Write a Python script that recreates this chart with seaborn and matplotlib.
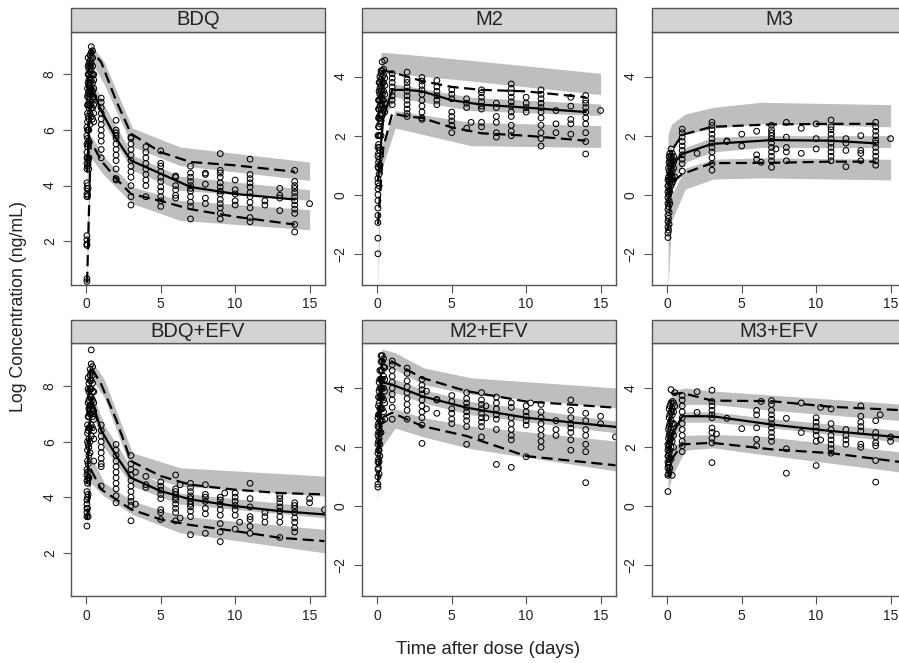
import pandas as pd
import seaborn as sns
import matplotlib.pyplot as plt
from matplotlib.patches import Rectangle

sns.set_style("white")
plt.rcParams['font.family'] = ['Liberation Sans', 'DejaVu Sans']

# ---- observed log concentrations, grouped by sampling day ----
bdq_obs = {
    0.04: [0.55, 0.65, 1.85, 1.9, 2.05, 2.2, 3.6, 3.7, 3.9, 4.1, 4.6, 4.8, 5.0, 5.2, 5.5, 5.8, 6.1],
    0.08: [3.65, 4.0, 4.7, 5.0, 5.4, 5.7, 6.0, 6.3, 6.6, 6.9, 7.2, 7.5],
    0.12: [3.9, 4.9, 5.5, 6.0, 6.5, 6.9, 7.3, 7.7, 8.0, 8.3, 8.6],
    0.17: [4.6, 5.0, 5.6, 6.0, 6.4, 6.8, 7.0, 7.2, 7.4, 7.6, 7.8, 8.0, 8.2, 8.4],
    0.25: [6.2, 6.6, 6.9, 7.1, 7.3, 7.5, 7.7, 7.9, 8.1, 8.3, 8.5, 8.7],
    0.33: [6.5, 6.8, 7.0, 7.3, 7.5, 7.8, 8.0, 8.2, 8.4, 8.6, 8.8, 9.0],
    0.42: [6.4, 6.8, 7.1, 7.4, 7.7, 8.0, 8.3, 8.6, 8.85],
    0.5: [6.3, 6.6, 6.9, 7.2, 7.5, 7.8, 8.0],
    1: [5.0, 5.3, 5.6, 5.8, 6.0, 6.2, 6.4, 6.6, 6.8, 7.0, 7.15],
    2: [4.2, 4.25, 4.6, 4.9, 5.1, 5.3, 5.5, 5.7, 5.8, 5.9, 6.0, 6.35],
    3: [3.3, 3.6, 4.0, 4.3, 4.5, 4.7, 4.9, 5.1, 5.3, 5.5, 5.7, 5.75],
    4: [3.6, 4.0, 4.2, 4.4, 4.6, 4.8, 5.0, 5.2, 5.4],
    5: [3.25, 3.45, 3.6, 3.8, 3.95, 4.15, 4.3, 4.5, 4.7, 4.8, 5.25],
    6: [3.55, 3.65, 3.85, 4.0, 4.3, 4.35],
    7: [2.8, 3.25, 3.4, 3.6, 3.8, 3.9, 4.0, 4.15, 4.3, 4.45, 4.7],
    8: [3.35, 3.55, 4.05, 4.4, 4.45],
    9: [2.8, 3.0, 3.2, 3.35, 3.5, 3.7, 3.8, 3.95, 4.1, 4.3, 4.45, 4.55, 5.15],
    10: [3.3, 3.45, 3.7, 3.85, 4.2],
    11: [2.7, 2.85, 3.2, 3.4, 3.6, 3.75, 3.95, 4.1, 4.25, 4.4, 4.95],
    12: [3.3, 3.45],
    13: [3.1, 3.55, 3.65, 3.9],
    14: [2.33, 2.6, 3.0, 3.15, 3.3, 3.45, 3.6, 3.75, 3.9, 4.0, 4.15, 4.55],
    15: [3.35],
}
m2_obs = {
    0.04: [-2.0, -1.47, -0.94, -0.7, -0.45, -0.2, 0.0, 0.2, 0.4, 0.55, 0.95, 1.3, 1.6, 2.0],
    0.08: [0.9, 1.1, 1.4, 1.7, 2.0, 2.3, 2.6, 2.9, 3.2],
    0.12: [0.3, 0.7, 1.2, 1.6, 2.0, 2.3, 2.6, 2.9, 3.2, 3.5, 3.8],
    0.17: [1.0, 1.5, 2.0, 2.4, 2.7, 3.0, 3.2, 3.4, 3.6, 3.8, 4.0],
    0.25: [2.0, 2.5, 2.9, 3.1, 3.3, 3.5, 3.7, 3.9, 4.1, 4.2],
    0.33: [2.7, 3.0, 3.2, 3.4, 3.6, 3.8, 4.0, 4.2, 4.5],
    0.42: [2.9, 3.2, 3.5, 3.8, 4.05, 4.25],
    0.5: [2.8, 3.1, 3.4, 3.7, 3.95, 4.55],
    1: [3.05, 3.2, 3.35, 3.5, 3.65, 3.8, 3.95, 4.1],
    2: [2.65, 2.75, 2.9, 3.05, 3.2, 3.35, 3.5, 3.65, 3.8, 3.9, 4.15],
    3: [2.55, 2.6, 2.8, 3.0, 3.2, 3.4, 3.55, 3.7, 3.85, 3.97],
    4: [3.05, 3.2, 3.35, 3.5, 3.65, 3.87],
    5: [2.1, 2.35, 2.5, 2.65, 2.8, 3.25, 3.4, 3.55],
    6: [2.25, 2.95, 3.1, 3.25],
    6.3: [2.45],
    7: [2.3, 2.45, 2.9, 3.0, 3.15, 3.3, 3.45, 3.55],
    8: [1.95, 2.1, 2.45, 2.65, 2.95, 3.1],
    9: [2.0, 2.15, 2.35, 2.65, 2.8, 3.0, 3.15, 3.3, 3.45, 3.6, 3.75],
    10: [2.8, 2.95, 3.1, 3.3],
    11: [1.65, 1.9, 2.1, 2.35, 2.6, 2.8, 2.95, 3.1, 3.25, 3.4, 3.55],
    12: [2.1, 2.4, 2.85],
    13: [2.05, 2.4, 2.55, 3.0, 3.3],
    14: [1.38, 1.8, 2.1, 2.4, 2.6, 2.8, 2.95, 3.1, 3.2, 3.36],
    15: [2.85],
}
m3_obs = {
    0.04: [-1.45, -1.3, -1.1, -0.9, -0.7, -0.5, -0.3, -0.1, 0.1, 0.3, 0.5],
    0.08: [-1.2, -0.8, -0.4, 0.0, 0.3, 0.6, 0.9],
    0.12: [-1.0, -0.6, -0.2, 0.2, 0.5, 0.8, 1.1, 1.3],
    0.17: [-0.3, 0.1, 0.4, 0.7, 1.0, 1.2, 1.4],
    0.25: [0.3, 0.5, 0.7, 0.9, 1.1, 1.3, 1.55],
    0.33: [0.4, 0.6, 0.8, 1.0, 1.2, 1.4],
    0.42: [0.5, 0.9, 1.1, 1.3],
    0.5: [0.6],
    1: [0.8, 1.05, 1.2, 1.35, 1.5, 1.65, 1.8, 1.95, 2.1, 2.22],
    2: [1.4],
    3: [0.83, 1.05, 1.25, 1.45, 1.6, 1.75, 1.9, 2.05, 2.2, 2.35, 2.45],
    4: [1.8, 1.82],
    5: [1.65, 2.05],
    6: [1.2, 1.35, 2.15],
    6.3: [1.1],
    7: [0.93, 1.15, 1.3, 1.45, 1.6, 1.75, 1.9, 2.0, 2.1, 2.2, 2.35],
    7.3: [1.55],
    8: [1.15, 1.45, 1.6, 1.95, 2.45],
    9: [1.4, 2.25],
    10: [1.55, 1.9, 2.4],
    11: [1.15, 1.3, 1.45, 1.6, 1.75, 1.9, 2.05, 2.2, 2.3, 2.53],
    12: [0.95, 1.5, 1.75, 1.9],
    13: [1.15, 1.4, 1.5, 2.0],
    14: [1.0, 1.15, 1.3, 1.45, 1.6, 1.75, 1.85, 2.0, 2.15, 2.3, 2.45],
    15: [1.9],
}
bdq_efv_obs = {
    0.04: [2.96, 3.3, 3.45, 3.6, 3.75, 3.9, 4.2, 4.6, 4.8, 5.0],
    0.08: [3.6, 4.0, 4.5, 4.9, 5.3, 5.7, 6.0, 6.3, 6.6],
    0.12: [3.3, 4.1, 4.7, 5.2, 5.9, 6.4, 6.9, 7.4, 7.9, 8.3],
    0.17: [4.7, 5.5, 5.8, 6.1, 6.5, 6.9, 7.2, 7.5, 7.8, 8.1],
    0.25: [5.6, 6.0, 6.5, 7.0, 7.3, 7.6, 7.9, 8.2, 8.4, 8.6],
    0.33: [6.2, 6.6, 7.0, 7.3, 7.6, 7.9, 8.2, 8.5, 8.8, 9.3],
    0.42: [6.5, 6.9, 7.2, 7.5, 7.8, 8.1, 8.4, 8.7],
    0.5: [5.3, 6.1, 6.4, 6.8, 7.1, 7.4, 7.8],
    1: [4.4, 5.1, 5.2, 5.4, 5.6, 5.8, 6.0, 6.2, 6.4, 6.6],
    2: [3.8, 4.05, 4.3, 4.5, 4.7, 4.9, 5.1, 5.3, 5.5, 5.7, 5.9],
    3: [3.15, 3.7, 3.85, 4.0, 4.2, 4.4, 4.6, 4.8, 5.0, 5.2, 5.5],
    3.3: [3.75, 4.9],
    4: [4.35, 4.45, 4.75],
    5: [3.2, 3.45, 3.55, 3.95, 4.1, 4.25, 4.4, 4.55],
    6: [3.15, 3.45, 3.6, 3.75, 3.9, 4.0, 4.1, 4.2, 4.3, 4.8],
    6.3: [3.25, 4.45],
    7: [2.65, 3.3, 3.5, 3.65, 3.75, 3.85, 3.95, 4.05, 4.2, 4.35, 4.5],
    8: [2.7, 3.4, 3.6, 3.85, 4.0, 4.1, 4.45],
    9: [2.4, 2.75, 3.05, 3.35, 3.55, 3.75, 3.9, 4.0],
    9.3: [4.15],
    10: [2.85, 3.35, 3.55, 3.7, 3.85, 4.0, 4.15],
    10.3: [3.1],
    11: [2.7, 2.95, 3.2, 3.3, 3.65, 3.95, 4.5],
    12: [3.1, 3.3, 3.45],
    13: [2.55, 3.1, 3.3, 3.5, 3.65, 3.8, 3.95, 4.05],
    14: [2.75, 2.9, 3.1, 3.25, 3.45, 3.6, 3.7, 3.8],
    15: [3.8, 3.95],
    16: [3.55],
}
m2_efv_obs = {
    0.04: [0.65, 0.75, 1.0, 1.25, 1.5, 1.8, 2.1, 2.4, 2.7, 3.0],
    0.08: [1.3, 1.6, 1.9, 2.2, 2.5, 2.8, 3.1, 3.4, 3.7],
    0.12: [1.1, 1.5, 1.9, 2.3, 2.7, 3.1, 3.5, 3.9, 4.2],
    0.17: [1.7, 2.1, 2.5, 2.9, 3.3, 3.7, 4.0, 4.3, 4.6],
    0.25: [2.5, 2.9, 3.3, 3.7, 4.0, 4.3, 4.6, 4.9, 5.1],
    0.33: [2.9, 3.3, 3.7, 4.0, 4.3, 4.6, 4.9, 5.1],
    0.42: [3.2, 3.6, 4.0, 4.4, 4.7, 5.0],
    0.5: [2.95, 3.5, 3.9, 4.3, 4.7],
    1: [2.95, 3.35, 3.6, 3.8, 4.0, 4.2, 4.4, 4.6, 4.8, 4.92],
    2: [2.95, 3.25, 3.45, 3.65, 3.85, 4.05, 4.25, 4.5, 4.68],
    3: [2.13, 2.75, 3.0, 3.2, 3.4, 3.6, 3.8, 3.95, 4.1, 4.3],
    3.3: [3.3, 3.9],
    4: [3.15, 3.6, 3.62],
    5: [2.8, 2.95, 3.15, 3.3, 3.55, 3.75],
    6: [2.1, 2.7, 2.9, 3.05, 3.2, 3.35, 3.5, 3.65, 3.85],
    7: [2.35, 2.7, 2.85, 3.0, 3.15, 3.3, 3.45, 3.6, 3.85],
    7.3: [3.0, 3.4],
    8: [1.42, 2.6, 2.95, 3.1, 3.3, 3.5, 3.7],
    9: [1.32, 2.25, 2.4, 2.6, 2.8, 3.0, 3.35, 3.5],
    10: [1.68, 2.75, 2.9, 3.05, 3.2, 3.4],
    10.3: [3.5],
    11: [2.0, 2.2, 2.4, 2.6, 2.8, 3.0, 3.2, 3.45],
    12: [2.4, 2.6, 2.9],
    13: [1.9, 2.25, 2.5, 2.65, 2.8, 3.0, 3.25, 3.6],
    14: [0.8, 1.85, 2.1, 2.4, 2.6, 2.9, 3.15],
    15: [2.8, 3.05],
    16: [2.35],
}
m3_efv_obs = {
    0.04: [0.5, 1.05, 1.3, 1.5, 1.7, 1.9, 2.1],
    0.08: [1.1, 1.4, 1.7, 2.0, 2.3, 2.6],
    0.12: [1.2, 1.5, 1.8, 2.1, 2.4, 2.7, 3.0, 3.3],
    0.17: [1.3, 1.65, 1.9, 2.2, 2.5, 2.8, 3.1, 3.4],
    0.25: [1.6, 2.0, 2.3, 2.6, 2.9, 3.2, 3.5, 3.95],
    0.33: [1.05, 2.2, 2.5, 2.8, 3.1, 3.3, 3.55],
    0.42: [2.0, 2.4, 2.8, 3.2, 3.5],
    0.5: [3.4, 3.85],
    1: [1.85, 2.05, 2.2, 2.4, 2.6, 2.8, 3.0, 3.2, 3.4, 3.6, 3.75],
    2: [3.18, 3.88],
    3: [1.48, 2.15, 2.3, 2.5, 2.65, 3.0, 3.1, 3.25, 3.4, 3.55, 3.93],
    3.3: [2.45],
    4: [2.98],
    5: [2.63],
    6: [2.05, 2.27, 2.66, 3.1, 3.25],
    6.3: [3.55],
    7: [2.2, 2.35, 2.5, 2.65, 2.8, 2.95, 3.1, 3.25, 3.45, 3.58],
    8: [1.12, 1.95, 2.98],
    9: [2.5, 3.5],
    10: [1.38, 2.2, 2.4, 2.55, 2.7, 2.85, 3.0],
    10.3: [2.25, 3.35],
    11: [1.8, 1.95, 2.1, 2.25, 2.4, 2.6, 2.8, 3.3],
    12: [2.1, 2.25, 2.4, 2.6],
    13: [2.0, 2.1, 2.55, 2.7, 2.85, 3.05, 3.4],
    14: [0.82, 1.55, 2.05, 2.15, 2.35, 2.5, 2.9],
    14.3: [3.1],
    15: [2.2, 2.35],
}

# ---- observed 5th / 50th / 95th percentiles ----
bdq_pt = [0.05, 0.3, 1, 2, 3, 5, 7, 10, 14]
bdq_p05 = [0.5, 5.6, 4.9, 4.25, 3.7, 3.45, 3.15, 2.88, 2.6]
bdq_p50 = [4.5, 7.6, 6.7, 5.7, 4.9, 4.43, 3.95, 3.7, 3.5]
bdq_p95 = [7.5, 8.9, 8.44, 7.06, 5.87, 5.2, 4.85, 4.73, 4.5]

m2_pt = [0.05, 0.4, 1, 2, 3, 5, 7, 10, 14]
m2_p05 = [-1.0, 1.6, 2.75, 2.65, 2.6, 2.28, 2.08, 2.0, 1.83]
m2_p50 = [0.5, 2.6, 3.55, 3.55, 3.5, 3.2, 3.05, 2.95, 2.8]
m2_p95 = [2.5, 4.2, 4.15, 4.0, 3.85, 3.65, 3.55, 3.5, 3.3]

m3_pt = [0.05, 0.3, 1, 3, 7, 11, 14]
m3_p05 = [-1.2, 0.4, 0.7, 1.07, 1.08, 1.12, 1.12]
m3_p50 = [-0.3, 1.0, 1.38, 1.72, 1.85, 1.83, 1.74]
m3_p95 = [0.5, 1.5, 2.03, 2.3, 2.38, 2.4, 2.4]

bdq_efv_pt = [0.05, 0.3, 1, 2, 3, 5, 7, 10, 13, 16]
bdq_efv_p05 = [3.2, 5.0, 4.28, 3.92, 3.56, 3.2, 3.0, 2.78, 2.54, 2.42]
bdq_efv_p50 = [4.5, 7.6, 6.4, 5.5, 4.7, 4.22, 3.92, 3.68, 3.5, 3.38]
bdq_efv_p95 = [7.0, 8.7, 8.06, 6.8, 5.3, 4.76, 4.45, 4.27, 4.15, 4.1]

m2_efv_pt = [0.05, 0.3, 1, 3, 6, 10, 16]
m2_efv_p05 = [0.8, 3.0, 3.17, 2.72, 2.38, 1.7, 1.39]
m2_efv_p50 = [1.8, 4.2, 4.12, 3.73, 3.34, 3.0, 2.69]
m2_efv_p95 = [3.0, 4.95, 4.9, 4.35, 3.9, 3.55, 3.34]

m3_efv_pt = [0.05, 0.3, 1, 3, 7, 11, 16]
m3_efv_p05 = [1.0, 1.6, 2.1, 2.15, 1.93, 1.8, 1.48]
m3_efv_p50 = [1.5, 2.4, 3.05, 3.05, 2.77, 2.55, 2.32]
m3_efv_p95 = [2.1, 3.8, 3.84, 3.58, 3.56, 3.37, 3.25]

# ---- simulated 95% intervals of the percentiles: [lower, upper] ----
bdq_bt = [0.05, 0.3, 1.2, 3.1, 6.3, 15]
bdq_ci05 = [[0.4, 5.0, 4.37, 3.35, 2.75, 2.41], [2.5, 5.8, 5.03, 3.95, 3.47, 3.13]]
bdq_ci50 = [[3.5, 7.3, 6.2, 4.55, 3.83, 3.47], [5.5, 7.9, 6.9, 5.1, 4.34, 3.85]]
bdq_ci95 = [[7.0, 8.5, 7.65, 5.4, 4.72, 4.19], [8.0, 9.1, 8.45, 6.07, 5.39, 4.85]]

m2_bt = [0.05, 0.25, 1.2, 6.3, 15]
m2_ci05 = [[-3.1, 0.8, 2.26, 1.66, 1.6], [-2.0, 1.6, 2.85, 2.45, 2.34]]
m2_ci50 = [[-0.5, 2.4, 3.3, 2.85, 2.68], [0.5, 3.0, 3.75, 3.3, 3.07]]
m2_ci95 = [[1.5, 4.1, 4.1, 3.85, 3.39], [2.5, 4.82, 4.79, 4.55, 4.11]]

m3_bt = [0.05, 0.3, 1.2, 3.1, 6.3, 15]
m3_ci05 = [[-3.1, -0.88, 0.19, 0.53, 0.57, 0.5], [-1.5, 0.0, 0.9, 1.2, 1.25, 1.2]]
m3_ci50 = [[-1.0, 0.4, 1.1, 1.45, 1.6, 1.6], [0.0, 1.2, 1.6, 1.95, 2.0, 2.0]]
m3_ci95 = [[1.0, 1.6, 2.05, 2.25, 2.4, 2.3], [2.06, 2.4, 2.73, 2.96, 3.13, 3.05]]

bdq_efv_bt = [0.05, 0.3, 1.2, 3.1, 6.3, 16]
bdq_efv_ci05 = [[2.75, 4.5, 4.04, 3.38, 2.72, 2.0], [3.5, 5.5, 4.52, 3.86, 3.32, 2.84]]
bdq_efv_ci50 = [[3.8, 7.2, 5.8, 4.4, 3.75, 3.26], [5.0, 7.9, 6.6, 5.0, 4.15, 3.62]]
bdq_efv_ci95 = [[6.5, 8.3, 7.6, 4.88, 4.4, 4.04], [7.8, 8.96, 8.24, 5.6, 5.06, 4.76]]

m2_efv_bt = [0.05, 0.3, 1.2, 3.1, 6.3, 16]
m2_efv_ci05 = [[0.2, 2.0, 2.65, 2.35, 1.95, 1.2], [1.0, 2.8, 3.3, 3.0, 2.72, 2.21]]
m2_efv_ci50 = [[1.2, 3.5, 3.85, 3.5, 3.1, 2.49], [2.2, 4.2, 4.3, 3.95, 3.55, 2.89]]
m2_efv_ci95 = [[2.5, 4.63, 4.63, 4.12, 3.79, 3.34], [3.5, 5.33, 5.2, 4.69, 4.35, 4.01]]

m3_efv_bt = [0.05, 0.3, 1.2, 3.1, 6.3, 16]
m3_efv_ci05 = [[0.5, 1.0, 1.9, 1.98, 1.76, 1.14], [1.2, 1.9, 2.4, 2.43, 2.38, 1.82]]
m3_efv_ci50 = [[1.2, 2.2, 2.85, 2.85, 2.7, 2.15], [1.9, 2.7, 3.2, 3.2, 3.0, 2.55]]
m3_efv_ci95 = [[1.8, 3.2, 3.45, 3.45, 3.28, 2.89], [2.6, 3.9, 4.01, 3.9, 3.79, 3.45]]

panels = [
    ("BDQ", bdq_obs, bdq_pt, bdq_p05, bdq_p50, bdq_p95, bdq_bt, bdq_ci05, bdq_ci50, bdq_ci95),
    ("M2", m2_obs, m2_pt, m2_p05, m2_p50, m2_p95, m2_bt, m2_ci05, m2_ci50, m2_ci95),
    ("M3", m3_obs, m3_pt, m3_p05, m3_p50, m3_p95, m3_bt, m3_ci05, m3_ci50, m3_ci95),
    ("BDQ+EFV", bdq_efv_obs, bdq_efv_pt, bdq_efv_p05, bdq_efv_p50, bdq_efv_p95,
     bdq_efv_bt, bdq_efv_ci05, bdq_efv_ci50, bdq_efv_ci95),
    ("M2+EFV", m2_efv_obs, m2_efv_pt, m2_efv_p05, m2_efv_p50, m2_efv_p95,
     m2_efv_bt, m2_efv_ci05, m2_efv_ci50, m2_efv_ci95),
    ("M3+EFV", m3_efv_obs, m3_efv_pt, m3_efv_p05, m3_efv_p50, m3_efv_p95,
     m3_efv_bt, m3_efv_ci05, m3_efv_ci50, m3_efv_ci95),
]

W, H = 899, 663
fig = plt.figure(figsize=(W / 100, H / 100), dpi=100)
lefts = [70.7, 361.7, 651.7]
tops = [31.7, 343.3]
pw, ph = 254.5, 252.8
strip_h = 23.5
band_col = '#bebebe'
strip_col = '#d3d3d3'
frame_col = '#555555'
dash = (0, (5, 2.5))

for i, (name, obs, pt, p05, p50, p95, bt, ci05, ci50, ci95) in enumerate(panels):
    row, col = divmod(i, 3)
    ax = fig.add_axes([lefts[col] / W, 1 - (tops[row] + ph) / H, pw / W, ph / H])

    for ci in (ci05, ci50, ci95):
        ax.fill_between(bt, ci[0], ci[1], color=band_col, lw=0, zorder=1)

    df = pd.DataFrame([(t, c) for t, vals in obs.items() for c in vals], columns=['time', 'conc'])
    sns.scatterplot(data=df, x='time', y='conc', ax=ax, marker='o', s=17,
                    facecolor='none', edgecolor='black', linewidth=0.75, zorder=2)

    sns.lineplot(x=pt, y=p50, ax=ax, color='black', lw=1.6, sort=False, estimator=None, zorder=3)
    for p in (p05, p95):
        sns.lineplot(x=pt, y=p, ax=ax, color='black', lw=1.6, linestyle=dash,
                     sort=False, estimator=None, zorder=3)

    ax.set_xlim(-1.05, 16.05)
    if name.startswith("BDQ"):
        ax.set_ylim(0.44, 9.54)
        ax.set_yticks([2, 4, 6, 8])
    else:
        ax.set_ylim(-3.04, 5.52)
        ax.set_yticks([-2, 0, 2, 4])
    ax.set_xticks([0, 5, 10, 15])
    ax.set_xlabel('')
    ax.set_ylabel('')
    for s in ax.spines.values():
        s.set_color(frame_col)
        s.set_linewidth(1.0)
    ax.tick_params(direction='out', length=6, width=0.8, color=frame_col, pad=3,
                   labelsize=10, labelcolor='#222222', left=True, bottom=True)
    ax.tick_params(axis='y', labelrotation=90, pad=4)
    for lab in ax.get_yticklabels():
        lab.set_va('center')

    ax.add_patch(Rectangle((0, 1), 1, strip_h / ph, transform=ax.transAxes, clip_on=False,
                           facecolor=strip_col, edgecolor=frame_col, lw=1.0, zorder=5))
    ax.text(0.5, 1 + strip_h / ph / 2, name, transform=ax.transAxes, ha='center',
            va='center', fontsize=14.5, color='#222222', zorder=6)

fig.text(18.5 / W, 1 - 306 / H, 'Log Concentration (ng/mL)', rotation=90, ha='center',
         va='center', fontsize=12.8, color='#222222')
fig.text(488 / W, 1 - 649 / H, 'Time after dose (days)', ha='center', va='center',
         fontsize=13.3, color='#222222')

fig.savefig('out.png', dpi=100)
